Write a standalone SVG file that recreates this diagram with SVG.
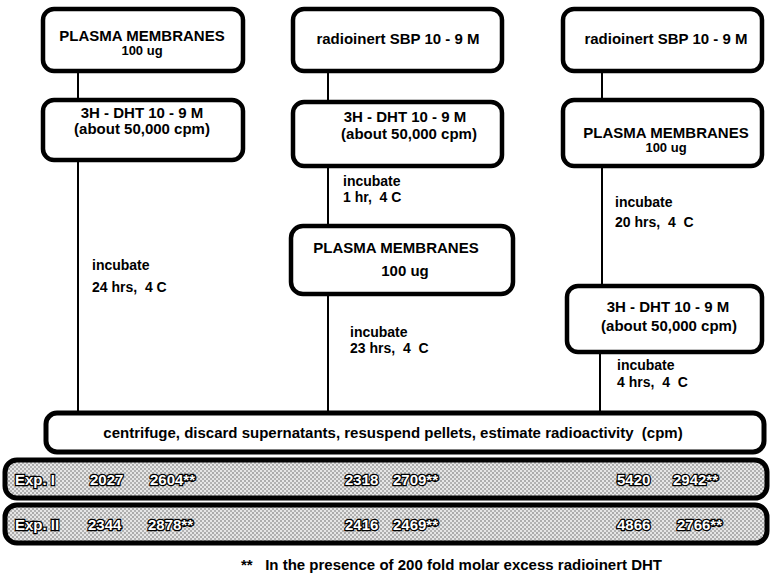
<svg xmlns="http://www.w3.org/2000/svg" width="771" height="579" viewBox="0 0 771 579">
<defs>
<pattern id="stip" width="4" height="4" patternUnits="userSpaceOnUse">
<rect width="4" height="4" fill="#e6e6e6"/>
<circle cx="1" cy="1" r="0.75" fill="#555"/>
<circle cx="3" cy="3" r="0.75" fill="#666"/>
</pattern>
</defs>
<style>
.box{fill:#fff;stroke:#000;stroke-width:4.5}
.bar{fill:url(#stip);stroke:#000;stroke-width:5}
.ln{stroke:#000;stroke-width:2;fill:none}
text{font-family:"Liberation Sans Narrow","Liberation Sans",Arial,sans-serif;font-weight:bold;fill:#000;white-space:pre}
.t{font-size:15px;text-anchor:middle}
.s{font-size:13px;text-anchor:middle}
.l{font-size:14px}
.b{font-size:15px;fill:#fff;stroke:#000;stroke-width:2.5;paint-order:stroke}
.c{font-size:15px;text-anchor:middle}
</style>
<g id="connectors">
<line class="ln" x1="78" y1="72" x2="78" y2="100"/>
<line class="ln" x1="78" y1="160" x2="78" y2="413"/>
<line class="ln" x1="328" y1="72" x2="328" y2="102"/>
<line class="ln" x1="328" y1="167" x2="328" y2="225"/>
<line class="ln" x1="328" y1="295" x2="328" y2="413"/>
<line class="ln" x1="602" y1="72" x2="602" y2="100"/>
<line class="ln" x1="602" y1="167" x2="602" y2="285"/>
<line class="ln" x1="600" y1="352" x2="600" y2="413"/>
</g>
<g id="n-left-pm">
<rect class="box" x="43" y="9" width="200" height="62" rx="11"/>
<text class="t" x="142" y="41">PLASMA MEMBRANES</text>
<text class="s" x="142" y="55">100 ug</text>
</g>
<g id="n-left-dht">
<rect class="box" x="43" y="100" width="200" height="60" rx="11"/>
<text class="t" x="142" y="118">3H - DHT 10 - 9 M</text>
<text class="t" x="142" y="134">(about 50,000 cpm)</text>
</g>
<g id="n-left-inc">
<text class="l" x="92" y="270">incubate</text>
<text class="l" x="92" y="292">24 hrs,  4 C</text>
</g>
<g id="n-mid-sbp">
<rect class="box" x="293" y="9" width="209" height="62" rx="11"/>
<text class="t" x="398" y="44">radioinert SBP 10 - 9 M</text>
</g>
<g id="n-mid-dht">
<rect class="box" x="293" y="102" width="209" height="64" rx="11"/>
<text class="t" x="405" y="122">3H - DHT 10 - 9 M</text>
<text class="t" x="409" y="139">(about 50,000 cpm)</text>
</g>
<g id="n-mid-inc1">
<text class="l" x="343" y="186">incubate</text>
<text class="l" x="343" y="202">1 hr,  4 C</text>
</g>
<g id="n-mid-pm">
<rect class="box" x="291" y="226" width="222" height="68" rx="12"/>
<text class="t" x="396" y="253">PLASMA MEMBRANES</text>
<text class="t" x="405" y="276">100 ug</text>
</g>
<g id="n-mid-inc2">
<text class="l" x="350" y="337">incubate</text>
<text class="l" x="350" y="353">23 hrs,  4  C</text>
</g>
<g id="n-right-sbp">
<rect class="box" x="563" y="9" width="199" height="62" rx="11"/>
<text class="t" x="666" y="44">radioinert SBP 10 - 9 M</text>
</g>
<g id="n-right-pm">
<rect class="box" x="563" y="100" width="199" height="66" rx="11"/>
<text class="t" x="666" y="138">PLASMA MEMBRANES</text>
<text class="s" x="666" y="152">100 ug</text>
</g>
<g id="n-right-inc1">
<text class="l" x="615" y="207">incubate</text>
<text class="l" x="615" y="227">20 hrs,  4  C</text>
</g>
<g id="n-right-dht">
<rect class="box" x="567" y="286" width="195" height="66" rx="11"/>
<text class="t" x="668" y="312">3H - DHT 10 - 9 M</text>
<text class="t" x="669" y="331">(about 50,000 cpm)</text>
</g>
<g id="n-right-inc2">
<text class="l" x="617" y="370">incubate</text>
<text class="l" x="617" y="387">4 hrs,  4  C</text>
</g>
<g id="n-centrifuge">
<rect class="box" x="46" y="413" width="718" height="39" rx="11" style="stroke-width:5"/>
<text class="c" x="393" y="438">centrifuge, discard supernatants, resuspend pellets, estimate radioactivity  (cpm)</text>
</g>
<g id="n-exp1">
<rect class="bar" x="5" y="460" width="762" height="38" rx="12"/>
<text class="b" x="15" y="485">Exp. I</text>
<text class="b" x="90" y="485">2027</text>
<text class="b" x="150" y="485">2604**</text>
<text class="b" x="345" y="485">2318</text>
<text class="b" x="393" y="485">2709**</text>
<text class="b" x="617" y="485">5420</text>
<text class="b" x="673" y="485">2942**</text>
</g>
<g id="n-exp2">
<rect class="bar" x="5" y="505" width="762" height="38" rx="12"/>
<text class="b" x="15" y="530">Exp. II</text>
<text class="b" x="88" y="530">2344</text>
<text class="b" x="148" y="530">2878**</text>
<text class="b" x="345" y="530">2416</text>
<text class="b" x="393" y="530">2469**</text>
<text class="b" x="617" y="530">4866</text>
<text class="b" x="677" y="530">2766**</text>
</g>
<g id="n-footnote">
<text class="l" x="241" y="570" style="font-size:15px">**   In the presence of 200 fold molar excess radioinert DHT</text>
</g>
</svg>
